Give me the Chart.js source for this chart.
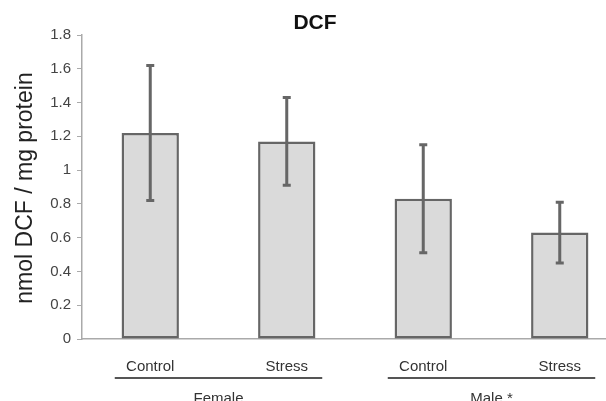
<!DOCTYPE html>
<html>
<head>
<meta charset="utf-8">
<script src="https://cdn.jsdelivr.net/npm/chart.js@4/dist/chart.umd.min.js"></script>
<style>
  html, body { margin: 0; padding: 0; overflow: hidden; background: #fff; }
  #wrap { width: 640px; height: 401px; }
</style>
</head>
<body>
<div id="wrap"><canvas id="c" width="640" height="401"></canvas></div>
<script>
// DCF levels per group (mean ± SD)
const categories = ['Control', 'Stress', 'Control', 'Stress'];
const groupLabels = ['Female', 'Male *'];
const groupMembers = [[0, 1], [2, 3]];
const means = [1.22, 1.17, 0.83, 0.63];
const sds = [0.40, 0.26, 0.32, 0.18];
const yTickLabels = ['0', '0.2', '0.4', '0.6', '0.8', '1', '1.2', '1.4', '1.6', '1.8'];

const FONT = 'Arial, "Liberation Sans", Helvetica, sans-serif';

// Error bars, drawn from the same scale as the bars
const errorBars = {
  id: 'errorBars',
  afterDatasetsDraw(chart) {
    const { ctx, scales: { x, y } } = chart;
    ctx.save();
    ctx.strokeStyle = '#666';
    ctx.lineWidth = 3;
    ctx.lineCap = 'butt';
    means.forEach((m, i) => {
      const px = x.getPixelForValue(i);
      const top = y.getPixelForValue(m + sds[i]);
      const bot = y.getPixelForValue(m - sds[i]);
      ctx.beginPath();
      ctx.moveTo(px, top);
      ctx.lineTo(px, bot);
      ctx.moveTo(px - 4, top);
      ctx.lineTo(px + 4, top);
      ctx.moveTo(px - 4, bot);
      ctx.lineTo(px + 4, bot);
      ctx.stroke();
    });
    ctx.restore();
  }
};

// Title, y-axis caption and grouped category labels
const annotations = {
  id: 'annotations',
  afterDraw(chart) {
    const { ctx, scales: { x } } = chart;
    const cat = x.getPixelForValue(1) - x.getPixelForValue(0);
    ctx.save();
    ctx.fillStyle = '#111';
    ctx.font = 'bold 21px ' + FONT;
    ctx.textAlign = 'center';
    ctx.textBaseline = 'middle';
    ctx.fillText('DCF', 315, 23);

    ctx.save();
    ctx.translate(26, 188);
    ctx.rotate(-Math.PI / 2);
    ctx.font = '23px ' + FONT;
    ctx.fillStyle = '#222';
    ctx.fillText('nmol DCF / mg protein', 0, 0);
    ctx.restore();

    groupMembers.forEach((idx, g) => {
      const a = x.getPixelForValue(idx[0]);
      const b = x.getPixelForValue(idx[idx.length - 1]);
      const mid = (a + b) / 2;
      const half = 0.76 * cat;
      ctx.strokeStyle = '#555';
      ctx.lineWidth = 2;
      ctx.beginPath();
      ctx.moveTo(mid - half, 378);
      ctx.lineTo(mid + half, 378);
      ctx.stroke();
      ctx.fillStyle = '#333';
      ctx.font = '15px ' + FONT;
      ctx.textBaseline = 'top';
      ctx.fillText(groupLabels[g], mid, 391);
    });
    ctx.restore();
  }
};

new Chart(document.getElementById('c'), {
  type: 'bar',
  data: {
    labels: categories,
    datasets: [{
      data: means,
      backgroundColor: '#dadada',
      borderColor: '#666',
      borderWidth: 2.5,
      borderSkipped: false,
      barPercentage: 0.42,
      categoryPercentage: 1
    }]
  },
  options: {
    responsive: false,
    animation: false,
    events: [],
    layout: { padding: { top: 35, right: 12, left: 0, bottom: 0 } },
    plugins: { legend: { display: false }, title: { display: false }, tooltip: { enabled: false } },
    scales: {
      x: {
        grid: { display: false },
        border: { display: true, color: '#aaa', width: 1.5 },
        ticks: { color: '#333', font: { family: FONT, size: 15 }, padding: 11, maxRotation: 0 },
        afterFit(scale) { scale.height = 62; }
      },
      y: {
        min: 0,
        max: 1.8,
        grid: { drawOnChartArea: false, drawTicks: true, tickLength: 5, color: '#aaa' },
        border: { display: true, color: '#aaa', width: 1.5 },
        ticks: {
          stepSize: 0.2,
          color: '#444',
          padding: 6,
          font: { family: FONT, size: 15 },
          callback: (v, i) => yTickLabels[i]
        },
        afterFit(scale) { scale.width = 82; }
      }
    }
  },
  plugins: [errorBars, annotations]
});
</script>
</body>
</html>
